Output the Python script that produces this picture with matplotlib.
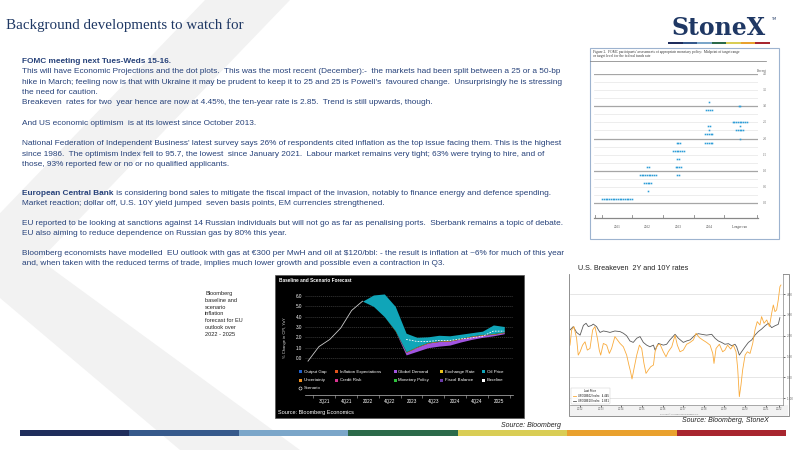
import matplotlib.pyplot as plt
from matplotlib.patches import Rectangle, Polygon

# ---------------- data ----------------
# FOMC dot plot (December): column index, rate midpoint, number of dots
dot_columns = ['2021', '2022', '2023', '2024', 'Longer run']
dot_col = [0, 1, 1, 1, 1, 2, 2, 2, 2, 2, 3, 3, 3, 3, 3, 3, 4, 4, 4, 4, 4]
dot_rate = [0.125, 1.125, 0.875, 0.625, 0.375,
            1.875, 1.625, 1.375, 1.125, 0.875,
            3.125, 2.875, 2.375, 2.25, 2.125, 1.875,
            3.0, 2.5, 2.375, 2.25, 2.0]
dot_count = [18, 2, 10, 5, 1,
             3, 7, 2, 4, 2,
             1, 4, 2, 1, 5, 5,
             2, 9, 1, 5, 1]
dot_axis_labels = ['4.0', '3.5', '3.0', '2.5', '2.0', '1.5', '1.0', '0.5', '0.0']
dot_axis_values = [4.0, 3.5, 3.0, 2.5, 2.0, 1.5, 1.0, 0.5, 0.0]

# Bloomberg EU inflation forecast, quarterly index
bb_hist_q = [0, 1, 2, 3, 4, 5]
bb_hist = [-0.3, 1.1, 1.8, 2.9, 4.6, 5.5]
bb_fc_q = [5, 6, 7, 8, 9, 10, 11, 12, 13, 14, 15, 16, 17, 18]
bb_lower = [5.5, 5.0, 4.0, 2.6, 0.3, 0.65, 1.0, 1.15, 1.25, 1.55, 1.8, 2.0, 2.15, 2.35]
bb_global_demand = [0, 0, 0, 0, 0.25, 0.4, 0.45, 0.45, 0.4, 0.3, 0.28, 0.22, 0.15, 0.12]
bb_exchange_rate = [0, 0, 0, 0.05, 0.06, 0.06, 0.06, 0.06, 0.06, 0.06, 0.06, 0.06, 0.06, 0.06]
bb_top = [5.5, 6.1, 6.2, 5.0, 2.4, 2.0, 2.05, 2.2, 2.15, 2.3, 2.45, 2.6, 3.2, 3.05]
bb_scen_q = [9, 10, 11, 12, 13, 14, 15, 16, 17, 18]
bb_scenario = [1.8, 1.6, 1.6, 1.7, 1.7, 1.85, 1.95, 2.1, 2.6, 2.6]
bb_xlabels = ['3Q21', '4Q21', '2022', '4Q22', '2023', '4Q23', '2024', '4Q24', '2025']
bb_ylabels = ['0.0', '1.0', '2.0', '3.0', '4.0', '5.0', '6.0']
bb_legend = [['Output Gap', 'Inflation Expectations', 'Global Demand', 'Exchange Rate', 'Oil Price'],
             ['Uncertainty', 'Credit Risk', 'Monetary Policy', 'Fiscal Balance', 'Baseline']]
bb_legend_colors = [['#1f5fc8', '#e0541c', '#a154e0', '#e8c21a', '#10a5b8'],
                    ['#f0901e', '#d6338f', '#2ec23c', '#6a3aa8', '#ffffff']]

# US breakeven rates
be10_year = [2012.00, 2012.16, 2012.32, 2012.49, 2012.65, 2012.78, 2012.89, 2013.05, 2013.13,
             2013.29, 2013.38, 2013.46, 2013.62, 2013.78, 2013.94, 2014.18, 2014.43, 2014.59,
             2014.75, 2014.91, 2015.07, 2015.24, 2015.40, 2015.56, 2015.72, 2015.88, 2016.05,
             2016.13, 2016.29, 2016.53, 2016.69, 2016.85, 2017.10, 2017.26, 2017.50, 2017.66,
             2017.83, 2018.07, 2018.23, 2018.39, 2018.63, 2018.88, 2019.04, 2019.20, 2019.36,
             2019.52, 2019.69, 2019.85, 2020.01, 2020.09, 2020.22, 2020.33, 2020.50, 2020.66,
             2020.82, 2020.98, 2021.14, 2021.30, 2021.47, 2021.63, 2021.79, 2021.95, 2022.11,
             2022.19]
be10 = [2.28, 2.44, 2.16, 2.03, 2.50, 2.60, 2.44, 2.50, 2.56,
        2.44, 2.28, 2.16, 2.23, 2.20, 2.16, 2.23, 2.20, 2.12,
        2.00, 1.75, 1.68, 1.88, 1.96, 1.68, 1.55, 1.47, 1.55,
        1.31, 1.63, 1.55, 1.59, 1.80, 2.07, 1.88, 1.68, 1.75,
        1.80, 2.03, 2.10, 2.07, 2.03, 2.07, 1.88, 1.75, 1.68,
        1.59, 1.62, 1.52, 1.59, 1.47, 1.07, 1.23, 1.47, 1.68,
        1.80, 2.03, 2.20, 2.32, 2.48, 2.60, 2.39, 2.48, 2.55,
        2.87]
be2_year = [2012.00, 2012.08, 2012.19, 2012.32, 2012.40, 2012.49, 2012.61, 2012.73, 2012.84,
            2012.97, 2013.10, 2013.21, 2013.33, 2013.42, 2013.49, 2013.62, 2013.78, 2013.91,
            2014.02, 2014.18, 2014.30, 2014.43, 2014.59, 2014.75, 2014.86, 2014.94, 2015.01,
            2015.11, 2015.24, 2015.37, 2015.48, 2015.59, 2015.69, 2015.80, 2015.92, 2016.05,
            2016.13, 2016.24, 2016.37, 2016.53, 2016.66, 2016.77, 2016.94, 2017.10, 2017.21,
            2017.34, 2017.50, 2017.66, 2017.83, 2017.99, 2018.12, 2018.28, 2018.44, 2018.63,
            2018.80, 2018.93, 2018.99, 2019.09, 2019.25, 2019.41, 2019.52, 2019.65, 2019.80,
            2019.93, 2020.06, 2020.14, 2020.22, 2020.30, 2020.38, 2020.50, 2020.61, 2020.74,
            2020.87, 2020.98, 2021.09, 2021.22, 2021.30, 2021.42, 2021.55, 2021.68, 2021.79,
            2021.87, 2021.95, 2022.03, 2022.11, 2022.19, 2022.24]
be2 = [1.55, 2.28, 2.44, 1.88, 1.07, 1.23, 1.55, 1.71, 1.31,
       1.39, 2.28, 2.44, 1.88, 1.31, 1.07, 1.63, 1.55, 1.15,
       1.39, 1.96, 1.80, 1.63, 1.47, 1.07, 0.59, 0.27, -0.08,
       0.43, 1.07, 1.55, 1.39, 0.67, 0.19, 0.35, 0.51, 0.59,
       1.23, 1.55, 1.59, 1.23, 0.99, 1.23, 1.47, 2.03, 1.55,
       1.23, 1.31, 1.59, 1.68, 1.80, 2.12, 1.91, 1.80, 1.68,
       1.55, 1.15, 0.67, 1.39, 1.59, 1.23, 1.31, 1.55, 1.36,
       1.55, 1.23, 0.43, -0.93, -0.37, 0.35, 1.07, 1.23, 1.15,
       1.63, 2.28, 2.68, 2.52, 2.92, 2.60, 2.76, 2.44, 3.08,
       3.48, 3.16, 3.24, 3.72, 4.36, 4.44]
be_years = ['2012', '2013', '2014', '2015', '2016', '2017', '2018', '2019', '2020', '2021', '2022']
be_ylabels = ['-1.00', '0.00', '1.00', '2.00', '3.00', '4.00']

# slide text
body_lines = [
    (61.5, 'FOMC meeting next Tues-Weds 15-16.', 'bold'),
    (71.8, 'This will have Economic Projections and the dot plots.  This was the most recent (December):-  '
           'the markets had been split between a 25 or a 50-bp', 'normal'),
    (82.0, "hike in March; feeling now is that with Ukraine it may be prudent to keep it to 25 and 25 is "
           "Powell's  favoured change.  Unsurprisingly he is stressing", 'normal'),
    (92.4, 'the need for caution.', 'normal'),
    (102.8, 'Breakeven  rates for two  year hence are now at 4.45%, the ten-year rate is 2.85.  '
            'Trend is still upwards, though.', 'normal'),
    (123.6, 'And US economic optimism  is at its lowest since October 2013.', 'normal'),
    (143.8, "National Federation of Independent Business' latest survey says 26% of respondents cited "
            "inflation as the top issue facing them. This is the highest", 'normal'),
    (154.0, 'since 1986.  The optimism Index fell to 95.7, the lowest  since January 2021.  Labour market '
            'remains very tight; 63% were trying to hire, and of', 'normal'),
    (164.2, 'those, 93% reported few or no or no qualified applicants.', 'normal'),
    (203.3, 'Market reaction; dollar off, U.S. 10Y yield jumped  seven basis points, EM currencies strengthened.',
     'normal'),
    (223.3, 'EU reported to be looking at sanctions against 14 Russian individuals but will not go as far as '
            'penalising ports.  Sberbank remains a topic of debate.', 'normal'),
    (233.3, 'EU also aiming to reduce dependence on Russian gas by 80% this year.', 'normal'),
    (253.3, 'Bloomberg economists have modelled  EU outlook with gas at \u20ac300 per MwH and oil at $120/bbl: '
            '- the result is inflation at ~6% for much of this year', 'normal'),
    (263.3, 'and, when taken with the reduced terms of trade, implies much lower growth and possible even '
            'a contraction in Q3.', 'normal'),
]
ecb_bold = 'European Central Bank'
ecb_rest = ' is considering bond sales to mitigate the fiscal impact of the invasion, notably to finance ' \
           'energy and defence spending.'
caption = 'Bloomberg\nbaseline and\nscenario\ninflation\nforecast for EU\noutlook over\n2022 - 2025'
stripe_colors = ['#1f2d5c', '#36598b', '#7ba6c9', '#2b6a4a', '#d9cd55', '#e9a12e', '#a8262f']

# ---------------- slide canvas ----------------
W, H = 800, 450
SANS = ['Liberation Sans', 'DejaVu Sans']
TXT = '#27427a'
FS = 5.95
fig = plt.figure(figsize=(8, 4.5), dpi=100)
bg = fig.add_axes([0, 0, 1, 1])
bg.set_xlim(0, W)
bg.set_ylim(H, 0)
bg.axis('off')


def px_axes(x0, y0, x1, y1):
    return fig.add_axes([x0 / W, 1 - y1 / H, (x1 - x0) / W, (y1 - y0) / H])


# faint chevron in background
bg.add_patch(Polygon([(205, 0), (290, 0), (40, 260), (-45, 260)], closed=True,
                     facecolor='#f2f2f2', edgecolor='none'))
bg.add_patch(Polygon([(-45, 260), (40, 260), (300, 450), (180, 450)], closed=True,
                     facecolor='#f2f2f2', edgecolor='none'))

# title and logo
bg.text(6, 25, 'Background developments to watch for', fontsize=10.8, color='#1f3864',
        family='Liberation Serif', va='center', ha='left')
bg.text(719, 28, 'StoneX', fontsize=17, color='#1f3864', family='DejaVu Serif', weight='bold',
        va='center', ha='center')
bg.text(771, 19, 'TM', fontsize=2.5, color='#1f3864', va='center')
seg = 102 / 7
for i, c in enumerate(stripe_colors):
    bg.add_patch(Rectangle((668 + i * seg, 41.5), seg, 2.5, facecolor=c, edgecolor='none'))

# body text
for y, s, w in body_lines:
    bg.text(22, y, s, fontsize=FS, color=TXT, family=SANS, weight=w, va='center', ha='left')
renderer = fig.canvas.get_renderer()
tb = bg.text(22, 193.3, ecb_bold, fontsize=FS, color=TXT, family=SANS, weight='bold',
             va='center', ha='left')
x_end = tb.get_window_extent(renderer=renderer).x1
bg.text(x_end, 193.3, ecb_rest, fontsize=FS, color=TXT, family=SANS, va='center', ha='left')

# ---------------- FOMC dot plot ----------------
bg.add_patch(Rectangle((590, 48), 189, 191, facecolor='white', edgecolor='#9db3cf', linewidth=0.8))
bg.text(593, 52, "Figure 2.  FOMC participants' assessments of appropriate monetary policy:  "
        "Midpoint of target range", fontsize=2.6, family='Liberation Serif', color='#333333', va='center')
bg.text(593, 56.5, 'or target level for the federal funds rate', fontsize=2.6,
        family='Liberation Serif', color='#333333', va='center')
bg.plot([590, 766], [61, 61], color='#777777', linewidth=0.5)
bg.text(757, 71, 'Percent', fontsize=2.3, family='Liberation Serif', color='#555555', va='center')

dax = px_axes(594, 74, 758, 218)
dax.set_xlim(-0.75, 4.6)
dax.set_ylim(-0.465, 4.0)
dax.axis('off')
for k in range(17):
    v = k * 0.25
    major = (k % 4 == 0)
    dax.axhline(v, color='#a6a6a6' if major else '#e3e3e3', linewidth=0.9 if major else 0.45,
                xmin=0.0, xmax=1.0, zorder=1)
dx = 0.057
for c, r, n in zip(dot_col, dot_rate, dot_count):
    xs = [c + (i - (n - 1) / 2) * dx for i in range(n)]
    dax.plot(xs, [r] * n, linestyle='none', marker='s', markersize=1.15,
             color='#2f9ed8', markeredgewidth=0, zorder=3)
dax.axhline(-0.465, color='#888888', linewidth=0.9, clip_on=False)
for b in [-0.73, -0.5, 0.5, 1.5, 2.5, 3.5, 4.58]:
    dax.plot([b, b], [-0.465, -0.36], color='#888888', linewidth=0.6, clip_on=False)
for i, lab in enumerate(dot_columns):
    dax.text(i, -0.75, lab, fontsize=2.4, family='Liberation Serif', color='#444444',
             ha='center', va='center', clip_on=False)
for lab, v in zip(dot_axis_labels, dot_axis_values):
    dax.text(4.75, v, lab, fontsize=2.3, family='Liberation Serif', color='#666666',
             ha='left', va='center', clip_on=False)

# ---------------- Bloomberg forecast ----------------
bg.text(205, 291, caption, fontsize=4.1, family=SANS, color='#222222', va='top', ha='left',
        linespacing=1.45)
bg.add_patch(Rectangle((275, 275), 249, 143, facecolor='black', edgecolor='#555555', linewidth=0.5))
bg.text(279, 280.5, 'Baseline and Scenario Forecast', fontsize=3.4, family=SANS, color='white',
        weight='bold', va='center')
bg.text(278, 412.5, 'Source: Bloomberg Economics', fontsize=4.0, family=SANS, color='white', va='center')
bg.text(285, 338, '% Change in CPI, YoY', fontsize=3.0, family=SANS, color='#dddddd', rotation=90,
        va='center', ha='center')

bax = px_axes(305, 283, 513, 395)
bax.set_facecolor('none')
bax.set_xlim(-0.275, 18.8)
bax.set_ylim(-3.58, 7.26)
for s in ['top', 'right', 'left']:
    bax.spines[s].set_visible(False)
bax.spines['bottom'].set_color('#bbbbbb')
bax.spines['bottom'].set_linewidth(0.5)
bax.set_yticks(range(7))
bax.set_yticklabels(bb_ylabels)
bax.tick_params(axis='y', length=0, labelsize=3.3, labelcolor='white', pad=2)
bax.set_xticks([0.5 + 2 * k for k in range(10)])
bax.set_xticklabels([])
bax.set_xticks([1.5 + 2 * k for k in range(9)], minor=True)
bax.set_xticklabels(bb_xlabels, minor=True)
bax.tick_params(axis='x', which='major', length=2, width=0.4, color='#bbbbbb')
bax.tick_params(axis='x', which='minor', length=0, labelsize=3.3, labelcolor='white', pad=3)
for t in bax.get_yticklabels() + bax.get_xticklabels(minor=True):
    t.set_family(SANS)
for v in range(7):
    bax.axhline(v, color='#555555', linewidth=0.4, linestyle=(0, (2, 1.5)), xmin=0.0, xmax=1.0, zorder=0)

gd_top = [a + b for a, b in zip(bb_lower, bb_global_demand)]
fx_top = [a + b for a, b in zip(gd_top, bb_exchange_rate)]
bax.fill_between(bb_fc_q, bb_lower, gd_top, color='#a154e0', linewidth=0, zorder=2)
bax.fill_between(bb_fc_q, gd_top, fx_top, color='#e8a21a', linewidth=0, zorder=2)
bax.fill_between(bb_fc_q, fx_top, bb_top, color='#10a5b8', linewidth=0, zorder=2)
bax.plot(bb_hist_q, bb_hist, color='#cccccc', linewidth=0.6, zorder=3)
bax.plot(bb_scen_q, bb_scenario, color='white', linewidth=0.6, linestyle=(0, (2, 1.5)), zorder=4)

for r, (labels, cols) in enumerate(zip(bb_legend, bb_legend_colors)):
    for x, lab, c in zip([300, 336.7, 395, 441.7, 483.3], labels, cols):
        bg.add_patch(Rectangle((x - 1.5, 371.7 + 8.3 * r - 1.5), 3, 3, facecolor=c, edgecolor='none'))
        bg.text(x + 3.5, 371.7 + 8.3 * r, lab, fontsize=3.2, family=SANS, color='white', va='center')
bg.plot([300], [388.3], marker='o', markersize=2.2, markerfacecolor='none', markeredgecolor='white',
        markeredgewidth=0.4, linestyle='none')
bg.text(303.5, 388.3, 'Scenario', fontsize=3.2, family=SANS, color='white', va='center')

bg.text(561, 425.5, 'Source: Bloomberg', fontsize=5.0, family=SANS, style='italic', color='#222222',
        ha='right', va='center')

# ---------------- US breakevens ----------------
bg.text(578, 268, 'U.S. Breakeven  2Y and 10Y rates', fontsize=5.2, family=SANS, color='#222222',
        va='center', ha='left')
bg.add_patch(Rectangle((569, 274), 220, 142, facecolor='white', edgecolor='#7f7f7f', linewidth=0.6))
bg.add_patch(Rectangle((570, 405), 218, 10.5, facecolor='#f2f2f2', edgecolor='none'))
bg.text(679, 414.6, 'Copyright\u00a9 2022 Bloomberg Finance L.P.', fontsize=1.5, family=SANS,
        color='#777777', ha='center', va='center')

eax = px_axes(570, 274, 783, 405)
eax.set_facecolor('white')
eax.set_xlim(2012.0, 2022.34)
eax.set_ylim(-1.33, 4.97)
for s in ['top', 'left']:
    eax.spines[s].set_visible(False)
eax.spines['right'].set_color('#888888')
eax.spines['bottom'].set_color('#888888')
eax.spines['right'].set_linewidth(0.5)
eax.spines['bottom'].set_linewidth(0.5)
eax.yaxis.tick_right()
eax.set_yticks([-1, 0, 1, 2, 3, 4])
eax.set_yticklabels(be_ylabels)
eax.tick_params(axis='y', length=1.5, width=0.4, labelsize=2.0, labelcolor='#666666', pad=1)
eax.set_xticks([2012.5 + i for i in range(10)] + [2022.15])
eax.set_xticklabels(be_years)
eax.tick_params(axis='x', length=1.2, width=0.4, labelsize=1.9, labelcolor='#666666', pad=0.6)
eax.grid(axis='y', color='#dcdcdc', linewidth=0.5)
eax.plot(be10_year, be10, color='#5b5b5b', linewidth=0.6, zorder=3)
eax.plot(be2_year, be2, color='#f9ab3c', linewidth=0.6, zorder=3)
leg = eax.legend(['USGGBE02 Index   4.445', 'USGGBE10 Index   2.851'], loc='lower left',
                 title='Last Price', fontsize=1.8, title_fontsize=1.8, frameon=True,
                 borderpad=0.5, handlelength=1.2, labelspacing=0.3, bbox_to_anchor=(0.0, 0.0))
leg.get_frame().set_linewidth(0.3)
leg.get_frame().set_edgecolor('#bbbbbb')
leg.legend_handles[0].set_color('#f9ab3c')
leg.legend_handles[1].set_color('#5b5b5b')

bg.text(769, 420.5, 'Source: Bloomberg, StoneX', fontsize=5.0, family=SANS, style='italic',
        color='#222222', ha='right', va='center')

# ---------------- bottom stripe ----------------
sw = (786 - 20) / 7
for i, c in enumerate(stripe_colors):
    bg.add_patch(Rectangle((20 + i * sw, 430), sw, 5.5, facecolor=c, edgecolor='none'))

fig.savefig('out.png', dpi=100)
